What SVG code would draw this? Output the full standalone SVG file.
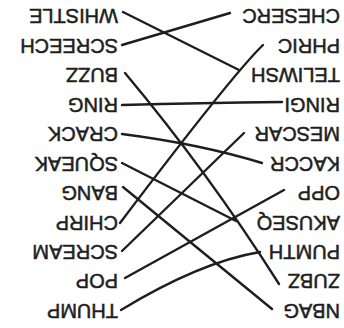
<svg xmlns="http://www.w3.org/2000/svg" width="344" height="328" viewBox="0 0 344 328">
<style>
  text { font-family: "Liberation Sans", Arial, sans-serif; font-size: 20px; fill: #1e1e1e; stroke: #1e1e1e; stroke-width: 0.5; }
  .c path { fill: none; stroke: #1e1e1e; stroke-width: 2.4; stroke-linecap: round; stroke-linejoin: round; }
</style>
<rect width="344" height="328" fill="#ffffff"/>
<g id="left">
  <g id="whistle"><text x="118" y="9.3" transform="rotate(180 118 9.3)">WHISTLE</text></g>
  <g id="screech"><text x="118" y="38.8" transform="rotate(180 118 38.8)">SCREECH</text></g>
  <g id="buzz"><text x="118" y="68.2" transform="rotate(180 118 68.2)">BUZZ</text></g>
  <g id="ring"><text x="118" y="97.7" transform="rotate(180 118 97.7)">RING</text></g>
  <g id="crack"><text x="118" y="127.1" transform="rotate(180 118 127.1)">CRACK</text></g>
  <g id="squeak"><text x="118" y="156.6" transform="rotate(180 118 156.6)">SQUEAK</text></g>
  <g id="bang"><text x="118" y="186" transform="rotate(180 118 186)">BANG</text></g>
  <g id="chirp"><text x="118" y="215.5" transform="rotate(180 118 215.5)">CHIRP</text></g>
  <g id="scream"><text x="118" y="244.9" transform="rotate(180 118 244.9)">SCREAM</text></g>
  <g id="pop"><text x="118" y="274.4" transform="rotate(180 118 274.4)">POP</text></g>
  <g id="thump"><text x="118" y="303.8" transform="rotate(180 118 303.8)">THUMP</text></g>
</g>
<g id="right">
  <g id="cheserc"><text x="340" y="9.3" transform="rotate(180 340 9.3)">CHESERC</text></g>
  <g id="phric"><text x="340" y="38.8" transform="rotate(180 340 38.8)">PHRIC</text></g>
  <g id="teliwsh"><text x="340" y="68.2" transform="rotate(180 340 68.2)">TELIWSH</text></g>
  <g id="ringi"><text x="340" y="97.7" transform="rotate(180 340 97.7)">RINGI</text></g>
  <g id="mescar"><text x="340" y="127.1" transform="rotate(180 340 127.1)">MESCAR</text></g>
  <g id="kaccr"><text x="340" y="156.6" transform="rotate(180 340 156.6)">KACCR</text></g>
  <g id="opp"><text x="340" y="186" transform="rotate(180 340 186)">OPP</text></g>
  <g id="akuseq"><text x="340" y="215.5" transform="rotate(180 340 215.5)">AKUSEQ</text></g>
  <g id="pumth"><text x="340" y="244.9" transform="rotate(180 340 244.9)">PUMTH</text></g>
  <g id="zubz"><text x="340" y="274.4" transform="rotate(180 340 274.4)">ZUBZ</text></g>
  <g id="nbag"><text x="340" y="303.8" transform="rotate(180 340 303.8)">NBAG</text></g>
</g>
<g id="connectors" class="c">
  <path d="M123,12 L239,70"/>
  <path d="M122,45 L230,13"/>
  <path d="M125,73 Q208,172 279,284"/>
  <path d="M122,105 Q200,103 282,102"/>
  <path d="M122,134 Q200,144 262,163"/>
  <path d="M122,163 L236,221"/>
  <path d="M123,187 L272,309"/>
  <path d="M120,223 Q232,75 263,45"/>
  <path d="M122,251 L244,133"/>
  <path d="M125,278 L284,190"/>
  <path d="M121,310 Q200,262 260,252"/>
</g>
</svg>
